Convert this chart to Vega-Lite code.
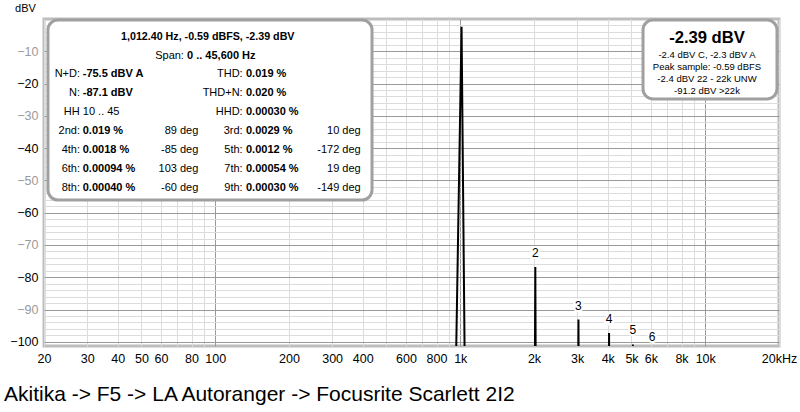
{
  "$schema": "https://vega.github.io/schema/vega-lite/v6.json",
  "width": 735,
  "height": 327,
  "autosize": {"type": "none"},
  "padding": {"left": 44, "top": 19, "right": 21, "bottom": 66},
  "background": "white",
  "config": {
    "font": "Liberation Sans",
    "view": {"stroke": "#bdbdbd", "strokeWidth": 3}
  },
  "title": {
    "text": "Akitika -> F5 -> LA Autoranger -> Focusrite Scarlett 2I2",
    "orient": "bottom",
    "anchor": "start",
    "frame": "group",
    "fontSize": 21,
    "fontWeight": "normal",
    "color": "#000000",
    "offset": 19,
    "dx": -40
  },
  "datasets": {
    "spectrum": [
      {"f": 20, "db": -125},
      {"f": 950, "db": -125},
      {"f": 962, "db": -104},
      {"f": 1012.4, "db": -2.39},
      {"f": 1042, "db": -104},
      {"f": 1055, "db": -125},
      {"f": 2012, "db": -125},
      {"f": 2024.8, "db": -76.8},
      {"f": 2037, "db": -125},
      {"f": 3025, "db": -125},
      {"f": 3037.2, "db": -93.1},
      {"f": 3050, "db": -125},
      {"f": 4037, "db": -125},
      {"f": 4049.6, "db": -97.3},
      {"f": 4062, "db": -125},
      {"f": 5050, "db": -125},
      {"f": 5062, "db": -100.8},
      {"f": 5074, "db": -125},
      {"f": 20000, "db": -125}
    ],
    "harmonics": [
      {"n": "2", "f": 2024.8, "db": -76.8},
      {"n": "3", "f": 3037.2, "db": -93.1},
      {"n": "4", "f": 4049.6, "db": -97.3},
      {"n": "5", "f": 5062, "db": -100.8},
      {"n": "6", "f": 6074.4, "db": -102.9}
    ],
    "boxes": [
      {"x1": 20.76, "x2": 436.4, "y1": -0.31, "y2": -56.07},
      {"x1": 5572, "x2": 19626, "y1": -0.31, "y2": -24.78}
    ],
    "boxtext": [
      {"role": "cb", "t": "1,012.40 Hz, -0.59 dBFS, -2.39 dBV", "x": 93.2, "y": -5.48},
      {"role": "r", "t": "Span:", "x": 74.5, "y": -11.37},
      {"role": "v", "t": "0 .. 45,600 Hz", "x": 76.7, "y": -11.37},
      {"role": "r", "t": "N+D:", "x": 28.06, "y": -17.13},
      {"role": "v", "t": "-75.5 dBV A", "x": 28.78, "y": -17.13},
      {"role": "r", "t": "THD:", "x": 129.4, "y": -17.13},
      {"role": "v", "t": "0.019 %", "x": 133.5, "y": -17.13},
      {"role": "r", "t": "N:", "x": 28.06, "y": -23.02},
      {"role": "v", "t": "-87.1 dBV", "x": 28.78, "y": -23.02},
      {"role": "r", "t": "THD+N:", "x": 129.4, "y": -23.02},
      {"role": "v", "t": "0.020 %", "x": 133.5, "y": -23.02},
      {"role": "c", "t": "HH 10 .. 45", "x": 31.3, "y": -28.72},
      {"role": "r", "t": "HHD:", "x": 129.4, "y": -28.72},
      {"role": "v", "t": "0.00030 %", "x": 133.5, "y": -28.72},
      {"role": "r", "t": "2nd:", "x": 28.06, "y": -34.7},
      {"role": "v", "t": "0.019 %", "x": 28.78, "y": -34.7},
      {"role": "r", "t": "89 deg", "x": 85.3, "y": -34.7},
      {"role": "r", "t": "3rd:", "x": 129.4, "y": -34.7},
      {"role": "v", "t": "0.0029 %", "x": 133.5, "y": -34.7},
      {"role": "r", "t": "10 deg", "x": 392.4, "y": -34.7},
      {"role": "r", "t": "4th:", "x": 28.06, "y": -40.58},
      {"role": "v", "t": "0.0018 %", "x": 28.78, "y": -40.58},
      {"role": "r", "t": "-85 deg", "x": 85.3, "y": -40.58},
      {"role": "r", "t": "5th:", "x": 129.4, "y": -40.58},
      {"role": "v", "t": "0.0012 %", "x": 133.5, "y": -40.58},
      {"role": "r", "t": "-172 deg", "x": 392.4, "y": -40.58},
      {"role": "r", "t": "6th:", "x": 28.06, "y": -46.47},
      {"role": "v", "t": "0.00094 %", "x": 28.78, "y": -46.47},
      {"role": "r", "t": "103 deg", "x": 85.3, "y": -46.47},
      {"role": "r", "t": "7th:", "x": 129.4, "y": -46.47},
      {"role": "v", "t": "0.00054 %", "x": 133.5, "y": -46.47},
      {"role": "r", "t": "19 deg", "x": 392.4, "y": -46.47},
      {"role": "r", "t": "8th:", "x": 28.06, "y": -52.26},
      {"role": "v", "t": "0.00040 %", "x": 28.78, "y": -52.26},
      {"role": "r", "t": "-60 deg", "x": 85.3, "y": -52.26},
      {"role": "r", "t": "9th:", "x": 129.4, "y": -52.26},
      {"role": "v", "t": "0.00030 %", "x": 133.5, "y": -52.26},
      {"role": "r", "t": "-149 deg", "x": 392.4, "y": -52.26},
      {"role": "big", "t": "-2.39 dBV", "x": 10166, "y": -5.79},
      {"role": "s", "t": "-2.4 dBV C, -2.3 dBV A", "x": 10166, "y": -11.15},
      {"role": "s", "t": "Peak sample: -0.59 dBFS", "x": 10166, "y": -14.96},
      {"role": "s", "t": "-2.4 dBV 22 - 22k UNW", "x": 10166, "y": -18.59},
      {"role": "s", "t": "-91.2 dBV >22k", "x": 10166, "y": -22.3}
    ]
  },
  "resolve": {"axis": {"x": "independent", "y": "independent"}},
  "layer": [
    {
      "data": {"name": "boxes"},
      "mark": {"type": "rect", "fill": "white", "stroke": "#a0a0a0", "strokeWidth": 3, "cornerRadius": 10},
      "encoding": {
        "x": {
          "field": "x1", "type": "quantitative",
          "scale": {"type": "log", "domain": [20, 20000], "nice": false},
          "axis": {
            "orient": "top",
            "values": [20,30,40,50,60,70,80,90,100,200,300,400,500,600,700,800,900,1000,2000,3000,4000,5000,6000,7000,8000,9000,10000,20000],
            "labels": false, "ticks": false, "domain": false, "title": null,
            "grid": true,
            "gridColor": {"condition": {"test": "datum.value == 100 || datum.value == 1000 || datum.value == 10000", "value": "#9a9a9a"}, "value": "#dcdcdc"},
            "gridOpacity": 1
          }
        },
        "x2": {"field": "x2"},
        "y": {
          "field": "y1", "type": "quantitative",
          "scale": {"domain": [-101.3, 0], "nice": false, "zero": false},
          "axis": {
            "orient": "right",
            "values": [-100,-98,-96,-94,-92,-90,-88,-86,-84,-82,-80,-78,-76,-74,-72,-70,-68,-66,-64,-62,-60,-58,-56,-54,-52,-50,-48,-46,-44,-42,-40,-38,-36,-34,-32,-30,-28,-26,-24,-22,-20,-18,-16,-14,-12,-10,-8,-6,-4,-2],
            "labels": false, "ticks": false, "domain": false, "title": null,
            "grid": true,
            "gridColor": {"condition": {"test": "datum.value % 10 == 0", "value": "#9a9a9a"}, "value": "#dcdcdc"},
            "gridOpacity": 1
          }
        },
        "y2": {"field": "y2"}
      }
    },
    {
      "data": {"name": "spectrum"},
      "mark": {"type": "line", "color": "#000000", "strokeWidth": 2, "clip": true},
      "encoding": {
        "x": {
          "field": "f", "type": "quantitative",
          "scale": {"type": "log", "domain": [20, 20000], "nice": false},
          "axis": {
            "orient": "bottom",
            "values": [20,30,40,50,60,80,100,200,300,400,600,800,1000,2000,3000,4000,5000,6000,8000,10000,20000],
            "labelExpr": "datum.value >= 20000 ? '20kHz' : (datum.value >= 1000 ? (datum.value / 1000) + 'k' : datum.value)",
            "grid": false, "ticks": false, "domain": false, "title": null,
            "labelFontSize": 12.5, "labelColor": "#000000", "labelPadding": 6,
            "labelOverlap": false, "labelFlush": false
          }
        },
        "y": {
          "field": "db", "type": "quantitative",
          "scale": {"domain": [-101.3, 0], "nice": false, "zero": false},
          "axis": {
            "orient": "left",
            "values": [-10,-20,-30,-40,-50,-60,-70,-80,-90,-100],
            "grid": false, "ticks": false, "domain": false,
            "labelFontSize": 12.5, "labelPadding": 6,
            "labelColor": {"condition": {"test": "datum.value % 20 == 0", "value": "#000000"}, "value": "#9a9a9a"},
            "title": "dBV", "titleAngle": 0, "titleAlign": "center", "titleBaseline": "middle",
            "titleX": -19, "titleY": -11, "titleFontSize": 11, "titleFontWeight": "normal", "titleColor": "#000000"
          }
        }
      }
    },
    {
      "data": {"name": "harmonics"},
      "mark": {"type": "text", "fontSize": 12, "dy": -14, "stroke": "white", "strokeWidth": 4, "color": "white"},
      "encoding": {
        "x": {"field": "f", "type": "quantitative", "axis": null},
        "y": {"field": "db", "type": "quantitative", "axis": null},
        "text": {"field": "n"}
      }
    },
    {
      "data": {"name": "harmonics"},
      "mark": {"type": "text", "fontSize": 12, "dy": -14, "color": "#000000"},
      "encoding": {
        "x": {"field": "f", "type": "quantitative", "axis": null},
        "y": {"field": "db", "type": "quantitative", "axis": null},
        "text": {"field": "n"}
      }
    },
    {
      "data": {"name": "boxtext"},
      "transform": [{"filter": "datum.role == 'r'"}],
      "mark": {"type": "text", "fontSize": 11, "align": "right", "baseline": "middle", "color": "#000000"},
      "encoding": {
        "x": {"field": "x", "type": "quantitative", "axis": null},
        "y": {"field": "y", "type": "quantitative", "axis": null},
        "text": {"field": "t"}
      }
    },
    {
      "data": {"name": "boxtext"},
      "transform": [{"filter": "datum.role == 'v'"}],
      "mark": {"type": "text", "fontSize": 11, "fontWeight": "bold", "align": "left", "baseline": "middle", "color": "#000000"},
      "encoding": {
        "x": {"field": "x", "type": "quantitative", "axis": null},
        "y": {"field": "y", "type": "quantitative", "axis": null},
        "text": {"field": "t"}
      }
    },
    {
      "data": {"name": "boxtext"},
      "transform": [{"filter": "datum.role == 'c'"}],
      "mark": {"type": "text", "fontSize": 11, "align": "center", "baseline": "middle", "color": "#000000"},
      "encoding": {
        "x": {"field": "x", "type": "quantitative", "axis": null},
        "y": {"field": "y", "type": "quantitative", "axis": null},
        "text": {"field": "t"}
      }
    },
    {
      "data": {"name": "boxtext"},
      "transform": [{"filter": "datum.role == 'cb'"}],
      "mark": {"type": "text", "fontSize": 10.7, "fontWeight": "bold", "align": "center", "baseline": "middle", "color": "#000000"},
      "encoding": {
        "x": {"field": "x", "type": "quantitative", "axis": null},
        "y": {"field": "y", "type": "quantitative", "axis": null},
        "text": {"field": "t"}
      }
    },
    {
      "data": {"name": "boxtext"},
      "transform": [{"filter": "datum.role == 'big'"}],
      "mark": {"type": "text", "fontSize": 16.6, "fontWeight": "bold", "align": "center", "baseline": "middle", "color": "#000000"},
      "encoding": {
        "x": {"field": "x", "type": "quantitative", "axis": null},
        "y": {"field": "y", "type": "quantitative", "axis": null},
        "text": {"field": "t"}
      }
    },
    {
      "data": {"name": "boxtext"},
      "transform": [{"filter": "datum.role == 's'"}],
      "mark": {"type": "text", "fontSize": 9.5, "align": "center", "baseline": "middle", "color": "#000000"},
      "encoding": {
        "x": {"field": "x", "type": "quantitative", "axis": null},
        "y": {"field": "y", "type": "quantitative", "axis": null},
        "text": {"field": "t"}
      }
    }
  ]
}
